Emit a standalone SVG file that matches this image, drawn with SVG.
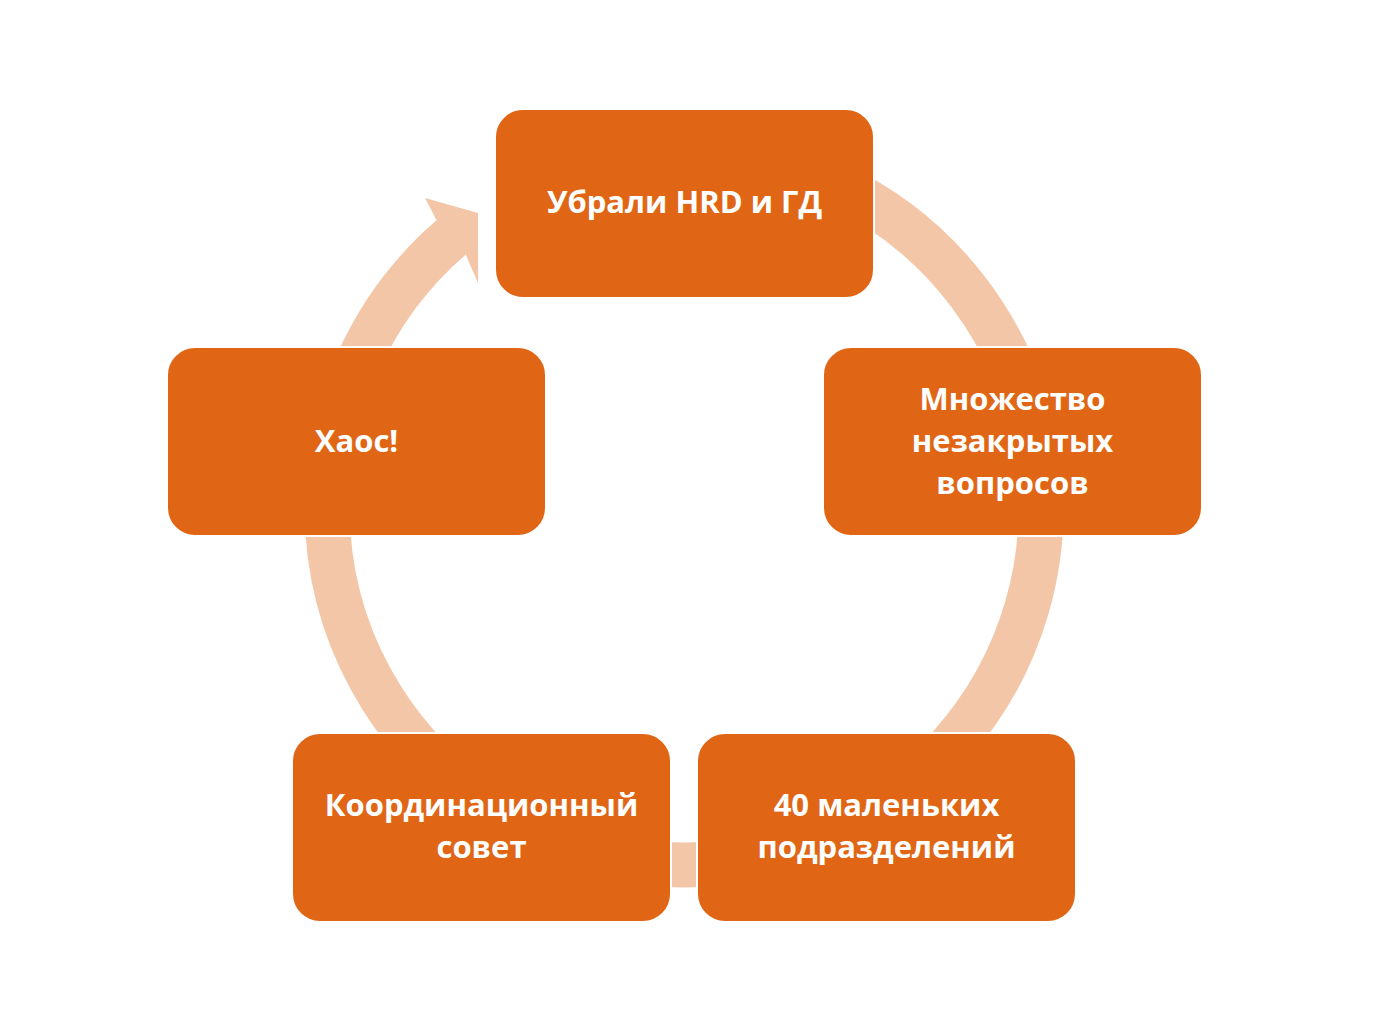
<svg xmlns="http://www.w3.org/2000/svg" width="1389" height="1027" viewBox="0 0 1389 1027">
<style>
.box{fill:#E06616;stroke:#FFFFFF;stroke-width:2}
.lbl{font-family:"Open Sans","Liberation Sans",sans-serif;font-weight:bold;font-size:31px;fill:#FFFFFF;text-anchor:middle}
.ring{fill:none;stroke:#F3C6A8;stroke-width:45}
.head{fill:#F3C6A8}
</style>
<rect width="1389" height="1027" fill="#FFFFFF"/>
<g id="connectors">
<path class="ring" d="M 684 151 A 357 357 0 1 1 451.2 237.4"/>
<polygon class="head" points="426.9,232.3 436.8,220.7 425,198 478,213 478,283 465.5,254 454.2,261.5"/>
</g>
<g id="node-top">
<rect class="box" x="495" y="109" width="379" height="189" rx="28" ry="28"/>
<text class="lbl" x="684.5" y="213">Убрали HRD и ГД</text>
</g>
<g id="node-right">
<rect class="box" x="823" y="347" width="379" height="189" rx="28" ry="28"/>
<text class="lbl" x="1012.5" y="410">Множество</text>
<text class="lbl" x="1012.5" y="452">незакрытых</text>
<text class="lbl" x="1012.5" y="494">вопросов</text>
</g>
<g id="node-bottom-right">
<rect class="box" x="697" y="733" width="379" height="189" rx="28" ry="28"/>
<text class="lbl" x="886.5" y="816">40 маленьких</text>
<text class="lbl" x="886.5" y="858">подразделений</text>
</g>
<g id="node-bottom-left">
<rect class="box" x="292" y="733" width="379" height="189" rx="28" ry="28"/>
<text class="lbl" x="481.5" y="816">Координационный</text>
<text class="lbl" x="481.5" y="858">совет</text>
</g>
<g id="node-left">
<rect class="box" x="167" y="347" width="379" height="189" rx="28" ry="28"/>
<text class="lbl" x="356.5" y="452">Хаос!</text>
</g>
</svg>
